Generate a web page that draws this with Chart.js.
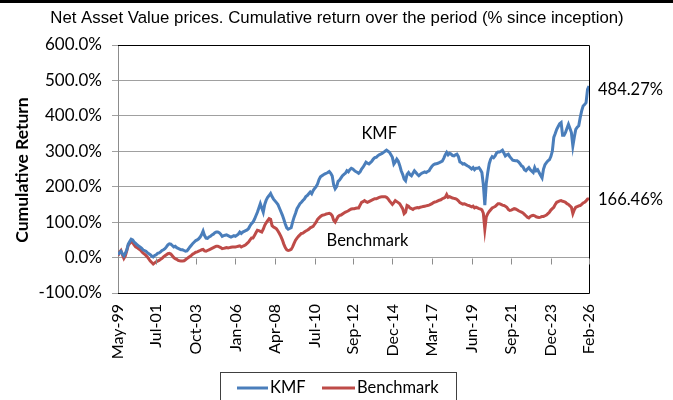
<!DOCTYPE html>
<html><head><meta charset="utf-8">
<script src="https://cdn.jsdelivr.net/npm/chart.js@4"></script>
<style>html,body{margin:0;padding:0;background:#fff;}#wrap{width:673px;height:400px;position:relative;}</style>
</head><body><div id="wrap"><canvas id="c" width="673" height="400"></canvas></div>
<script>
// Monthly values, May-99 .. Feb-26 (% cumulative return)
const kmf = [
  8, 14, 18, 10, 5, 12, 22, 38,
  45, 52, 50, 44, 40, 36, 33, 30, 27, 22, 20, 18,
  14, 11, 8, 4, 2, 6, 8, 12, 13, 16, 20, 22,
  25, 30, 36, 39, 38, 34, 30, 32, 28, 26, 24, 22,
  22, 20, 18, 19, 24, 30, 35, 40, 44, 48, 50, 53,
  58, 65, 75, 62, 55, 54, 58, 60, 64, 66, 70, 72,
  72, 70, 66, 60, 62, 63, 64, 62, 60, 58, 60, 62,
  60, 63, 66, 72, 68, 72, 74, 76, 78, 82, 90, 96,
  100, 108, 118, 128, 140, 152, 140, 128, 150, 162, 170, 175,
  181, 172, 165, 160, 155, 150, 140, 130, 120, 108, 95, 84,
  80, 82, 84, 100, 114, 125, 138, 145, 152, 156, 161, 165,
  172, 175, 180, 185, 180, 189, 195, 200, 208, 220, 228, 231,
  234, 236, 238, 240, 243, 238, 230, 205, 194, 200, 215, 219,
  225, 231, 235, 238, 245, 242, 248, 252, 250, 246, 243, 241,
  238, 242, 250, 255, 262, 269, 266, 264, 268, 272, 278, 282,
  283, 287, 290, 292, 294, 297, 300, 303, 300, 297, 290, 283,
  264, 270, 278, 272, 260, 245, 235, 222, 217, 235, 240, 234,
  231, 238, 245, 240, 235, 231, 235, 238, 240, 242, 240, 243,
  245, 252, 258, 262, 264, 265, 266, 268, 270, 272, 280, 290,
  297, 290, 294, 292, 288, 287, 290, 292, 285, 270, 268, 264,
  265, 262, 259, 257, 254, 250, 254, 248, 252, 252, 254, 248,
  240, 205, 148, 210, 240, 265, 278, 285, 282, 287, 295, 298,
  298, 300, 303, 295, 287, 290, 292, 285, 280, 275, 274, 273,
  273, 270, 265, 259, 256, 248, 245, 250, 254, 248, 244, 240,
  254, 245, 248, 240, 232, 225, 250, 262, 268, 273, 276, 285,
  300, 339, 350, 362, 370, 378, 381, 345, 345, 353, 365, 376,
  365, 353, 315, 340, 362, 368, 372, 395, 414, 428, 432, 437,
  475, 484.27
];
const benchmark = [
  5, 15, 20, 8, -2, 5, 20, 35,
  40, 44, 42, 36, 30, 28, 25, 22, 18, 13, 10, 6,
  2, -4, -10, -14, -18, -15, -12, -10, -8, -5, -2, 2,
  5, 8, 11, 12, 10, 5, 0, -3, -5, -8, -9, -10,
  -10, -9, -6, -3, 0, 3, 6, 10, 12, 15, 16, 18,
  20, 22, 23, 19, 18, 20, 22, 24, 26, 28, 30, 32,
  32, 30, 28, 25, 26, 27, 28, 27, 28, 29, 30, 30,
  30, 31, 32, 33, 30, 32, 34, 36, 40, 44, 50, 55,
  55, 62, 70, 77, 76, 74, 72, 80, 91, 98, 104, 110,
  108, 90, 86, 84, 81, 75, 68, 60, 50, 38, 28, 22,
  20, 21, 23, 30, 40, 49, 55, 60, 64, 68, 69, 72,
  75, 77, 80, 84, 86, 88, 94, 100, 108, 112, 116, 119,
  120, 121, 123, 124, 125, 123, 118, 105, 100, 108, 116, 119,
  120, 123, 126, 128, 130, 132, 135, 137, 138, 138, 139, 140,
  140, 148, 156, 158, 161, 158, 156, 158, 160, 162, 164, 166,
  166, 168, 170, 171, 172, 172, 172, 170, 166, 160, 155, 150,
  155, 161, 158, 155, 152, 145, 138, 124, 128, 147, 145, 140,
  138, 136, 139, 140, 141, 140, 142, 143, 144, 145, 146, 147,
  148, 150, 152, 155, 157, 158, 160, 162, 163, 166, 168, 170,
  178, 170, 172, 170, 168, 167, 166, 164, 160, 155, 153, 151,
  152, 150, 148, 147, 145, 143, 145, 140, 142, 140, 138, 137,
  135, 125, 80, 115, 124, 130, 135, 140, 142, 144, 148, 152,
  152, 150, 148, 147, 145, 142, 136, 133, 134, 136, 138, 137,
  135, 132, 130, 128, 126, 122, 118, 114, 112, 116, 118, 119,
  118, 115, 114, 113, 114, 116, 116, 118, 120, 124, 128, 134,
  138, 142, 150, 156, 158, 160, 161, 159, 158, 156, 152, 150,
  146, 142, 124, 135, 142, 144, 146, 147, 150, 154, 156, 160,
  165, 166.46
];
const tickMonths = [0, 26, 53, 80, 107, 134, 160, 187, 214, 241, 268, 295, 321];
const tickLabels = ['May-99','Jul-01','Oct-03','Jan-06','Apr-08','Jul-10','Sep-12','Dec-14','Mar-17','Jun-19','Sep-21','Dec-23','Feb-26'];
const yTicks = [-100, 0, 100, 200, 300, 400, 500, 600];
const seriesNames = ['KMF', 'Benchmark'];
const seriesColors = ['#4A7EBB', '#BE4B48'];
const titleText = 'Net Asset Value prices. Cumulative return over the period (% since inception)';
const yTitle = 'Cumulative Return';
const seriesTags = [{name:'KMF', x:178, y:350}, {name:'Benchmark', x:170, y:48}];

const FONT = 'Lato, "Noto Sans", sans-serif';

const decor = {
  id: 'decor',
  beforeDraw(chart) {
    const c = chart.ctx;
    c.save();
    c.fillStyle = '#fff';
    c.fillRect(0, 0, chart.width, chart.height);
    c.restore();
  },
  afterDraw(chart) {
    const c = chart.ctx, a = chart.chartArea;
    const xs = chart.scales.x, ys = chart.scales.y;
    c.save();
    c.fillStyle = '#000';
    c.fillRect(0, 0, chart.width, 3);
    c.font = '16.8px "Liberation Sans", Arial, sans-serif';
    c.fillStyle = '#000';
    c.textAlign = 'center';
    c.textBaseline = 'middle';
    c.fillText(titleText, 337, 18);
    c.strokeStyle = '#000';
    c.lineWidth = 1;
    c.beginPath();
    c.moveTo(a.left, a.top + 0.5); c.lineTo(a.right + 0.5, a.top + 0.5);
    c.lineTo(a.right + 0.5, a.bottom + 0.5); c.lineTo(a.left, a.bottom + 0.5);
    c.stroke();
    const y0 = Math.round(ys.getPixelForValue(0)) + 0.5;
    c.strokeStyle = '#8c8c8c';
    c.beginPath();
    tickMonths.forEach(m => {
      const px = Math.round(xs.getPixelForValue(m)) + 0.5;
      c.moveTo(px, y0); c.lineTo(px, y0 + 6);
    });
    c.stroke();
    c.save();
    c.translate(22, 170);
    c.rotate(-Math.PI / 2);
    c.font = 'bold 17.5px ' + FONT;
    c.textAlign = 'center';
    c.textBaseline = 'middle';
    c.fillText(yTitle, 0, 0);
    c.restore();
    c.font = '16.5px ' + FONT;
    c.textAlign = 'center';
    c.textBaseline = 'middle';
    seriesTags.forEach(t => c.fillText(t.name, xs.getPixelForValue(t.x), ys.getPixelForValue(t.y)));
    c.textAlign = 'left';
    const lastK = kmf[kmf.length - 1], lastB = benchmark[benchmark.length - 1];
    c.fillText(lastK.toFixed(2) + '%', a.right + 9, ys.getPixelForValue(lastK) + 4);
    c.fillText(lastB.toFixed(2) + '%', a.right + 9, ys.getPixelForValue(lastB) + 1);
    c.strokeStyle = '#404040';
    c.lineWidth = 1;
    c.strokeRect(220.5, 372.5, 236, 40);
    const ly = 388;
    c.lineWidth = 3;
    c.strokeStyle = seriesColors[0];
    c.beginPath(); c.moveTo(237, ly); c.lineTo(268, ly); c.stroke();
    c.strokeStyle = seriesColors[1];
    c.beginPath(); c.moveTo(322, ly); c.lineTo(355, ly); c.stroke();
    c.font = '16.5px ' + FONT;
    c.fillStyle = '#000';
    c.textAlign = 'left';
    c.fillText(seriesNames[0], 270, ly);
    c.fillText(seriesNames[1], 357, ly);
    c.restore();
  }
};

new Chart(document.getElementById('c'), {
  type: 'line',
  data: {
    datasets: [
      { label: seriesNames[0], data: kmf.map((v, i) => ({x: i, y: v})), borderColor: seriesColors[0], borderWidth: 3, pointRadius: 0, tension: 0, fill: false },
      { label: seriesNames[1], data: benchmark.map((v, i) => ({x: i, y: v})), borderColor: seriesColors[1], borderWidth: 3, pointRadius: 0, tension: 0, fill: false }
    ]
  },
  options: {
    responsive: false, animation: false, devicePixelRatio: 1,
    layout: { padding: { top: 45, right: 84, left: 0, bottom: 0 } },
    plugins: { legend: { display: false }, tooltip: { enabled: false }, title: { display: false } },
    scales: {
      x: {
        type: 'linear', min: 0, max: kmf.length - 1,
        afterBuildTicks: s => { s.ticks = tickMonths.map(v => ({ value: v })); },
        ticks: {
          autoSkip: false, minRotation: 90, maxRotation: 90, padding: 11, color: '#000',
          font: { family: FONT, size: 16 },
          callback: v => { const k = tickMonths.indexOf(v); return k >= 0 ? tickLabels[k] : ''; }
        },
        grid: { display: false, drawTicks: false },
        border: { display: false },
        afterFit: s => { s.height = 107; }
      },
      y: {
        min: -100, max: 600,
        afterBuildTicks: s => { s.ticks = yTicks.map(v => ({ value: v })); },
        ticks: { padding: 10, color: '#000', font: { family: FONT, size: 17 }, callback: v => v.toFixed(1) + '%' },
        grid: { color: '#a0a0a0', tickLength: 6, drawTicks: true },
        border: { display: true, color: '#8c8c8c' },
        afterFit: s => { s.width = 118; }
      }
    }
  },
  plugins: [decor]
});
</script></body></html>
